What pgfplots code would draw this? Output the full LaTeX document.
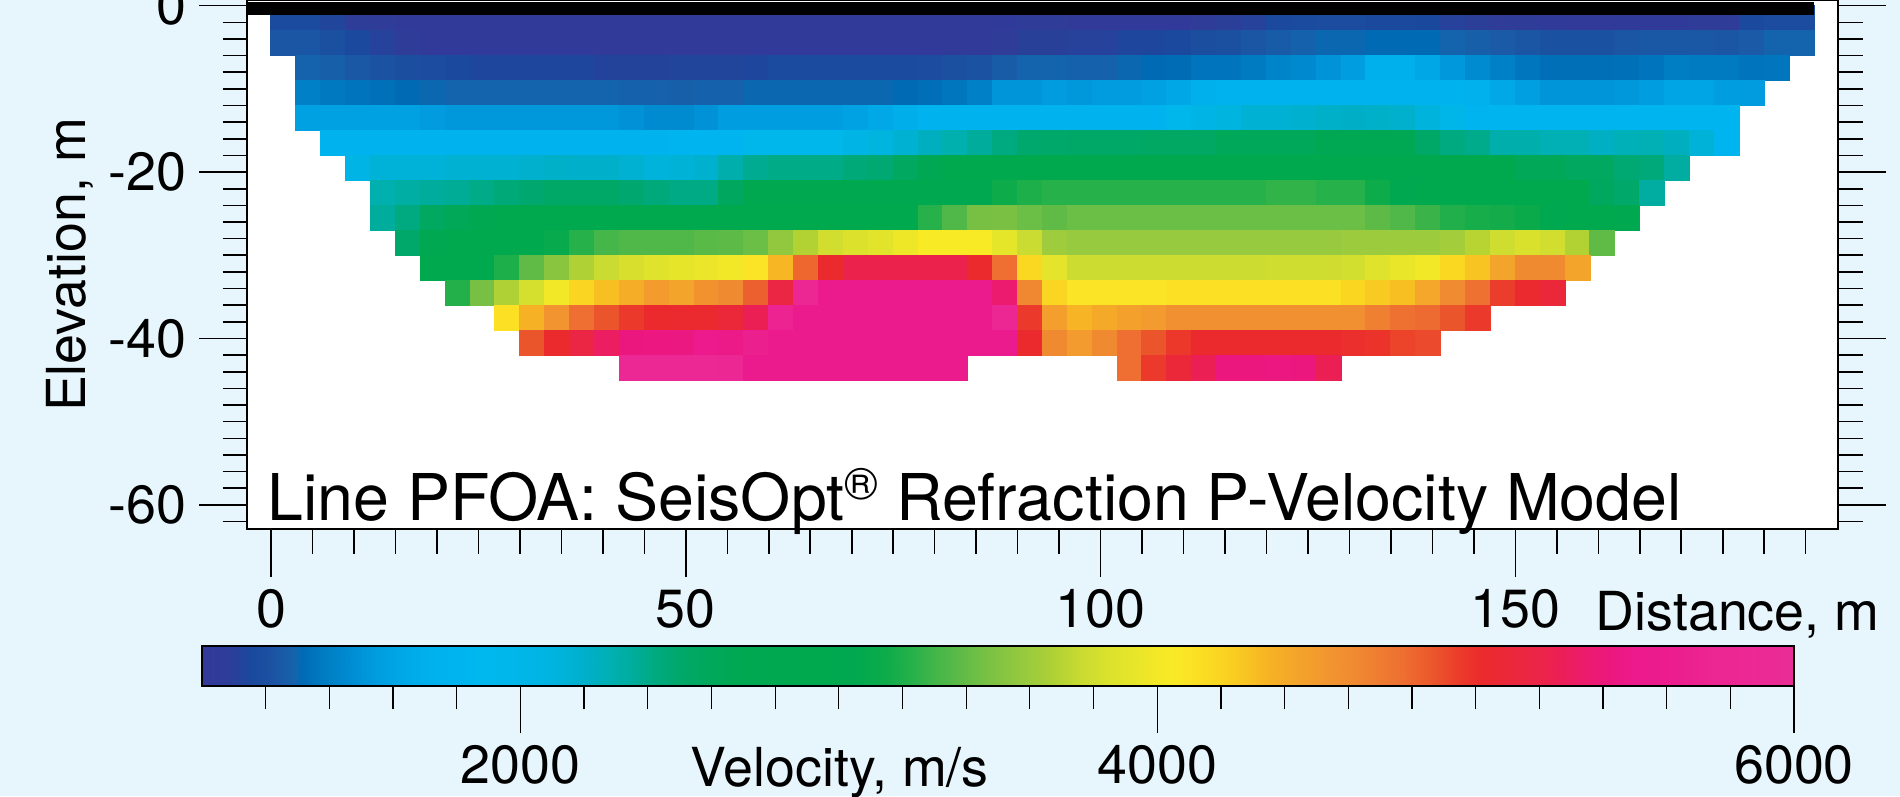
\documentclass[border=0pt]{standalone}
\usepackage{pgfplots}
\pgfplotsset{compat=1.18}
\usepackage{pgfplotstable}
\usepackage{fontspec}
\setmainfont{TeX Gyre Heros}

\definecolor{paneback}{RGB}{231,245,252}

% velocity colour scale, positions = (v - 1000)/10
\pgfplotsset{colormap={seis}{[1pt]
  rgb255(0pt)=(51,57,154) rgb255(8pt)=(46,61,152) rgb255(11pt)=(38,66,154)
  rgb255(15pt)=(26,72,157) rgb255(20pt)=(27,79,160) rgb255(25pt)=(26,90,166)
  rgb255(29pt)=(20,100,173) rgb255(31pt)=(0,106,180) rgb255(35pt)=(0,116,188)
  rgb255(40pt)=(0,128,198) rgb255(45pt)=(0,137,206) rgb255(50pt)=(0,147,216)
  rgb255(56pt)=(0,158,224) rgb255(62pt)=(0,167,230) rgb255(70pt)=(0,176,236)
  rgb255(78pt)=(0,180,239) rgb255(90pt)=(0,184,238) rgb255(100pt)=(0,182,233)
  rgb255(110pt)=(0,180,224) rgb255(117pt)=(0,177,209) rgb255(122pt)=(0,175,198)
  rgb255(128pt)=(0,176,178) rgb255(135pt)=(0,173,157) rgb255(142pt)=(0,170,128)
  rgb255(150pt)=(0,168,106) rgb255(160pt)=(0,168,90) rgb255(170pt)=(0,168,82)
  rgb255(190pt)=(0,169,77) rgb255(205pt)=(0,169,79) rgb255(215pt)=(14,171,74)
  rgb255(223pt)=(38,177,74) rgb255(230pt)=(66,181,73) rgb255(234pt)=(79,184,72)
  rgb255(239pt)=(96,187,70) rgb255(242pt)=(107,190,70) rgb255(247pt)=(122,193,67)
  rgb255(254pt)=(141,198,63) rgb255(258pt)=(151,202,62) rgb255(263pt)=(163,205,59)
  rgb255(268pt)=(178,210,52) rgb255(276pt)=(202,219,50) rgb255(280pt)=(209,222,47)
  rgb255(285pt)=(220,226,44) rgb255(292pt)=(230,229,42) rgb255(299pt)=(242,232,39)
  rgb255(305pt)=(249,234,37) rgb255(310pt)=(251,227,37) rgb255(320pt)=(250,213,33)
  rgb255(328pt)=(248,196,34) rgb255(334pt)=(247,180,36) rgb255(344pt)=(243,164,43)
  rgb255(350pt)=(243,155,46) rgb255(362pt)=(240,138,49) rgb255(377pt)=(238,111,49)
  rgb255(387pt)=(235,85,44) rgb255(395pt)=(235,58,43) rgb255(402pt)=(235,42,45)
  rgb255(410pt)=(235,40,58) rgb255(420pt)=(235,37,72) rgb255(426pt)=(236,31,85)
  rgb255(435pt)=(236,27,111) rgb255(442pt)=(236,23,126) rgb255(450pt)=(236,26,140)
  rgb255(460pt)=(236,28,142) rgb255(475pt)=(236,38,146) rgb255(485pt)=(236,40,148)
  rgb255(500pt)=(234,45,150)
}}

% model cells: centre distance (m), centre elevation (m), velocity (m/s)
\pgfplotstableread[row sep=\\]{
x y v\\
1.5 -1.5 1170\\ 4.5 -1.5 1170\\ 7.5 -1.5 1130\\ 10.5 -1.5 1080\\ 13.5 -1.5 1070\\ 16.5 -1.5 1030\\ 19.5 -1.5 1030\\ 22.5 -1.5 1030\\ 25.5 -1.5 1030\\ 28.5 -1.5 1030\\ 31.5 -1.5 1030\\ 34.5 -1.5 1030\\ 37.5 -1.5 1030\\ 40.5 -1.5 1030\\ 43.5 -1.5 1030\\ 46.5 -1.5 1030\\
49.5 -1.5 1030\\ 52.5 -1.5 1030\\ 55.5 -1.5 1030\\ 58.5 -1.5 1030\\ 61.5 -1.5 1030\\ 64.5 -1.5 1030\\ 67.5 -1.5 1030\\ 70.5 -1.5 1030\\ 73.5 -1.5 1030\\ 76.5 -1.5 1030\\ 79.5 -1.5 1030\\ 82.5 -1.5 1030\\ 85.5 -1.5 1030\\ 88.5 -1.5 1040\\ 91.5 -1.5 1060\\ 94.5 -1.5 1060\\
97.5 -1.5 1030\\ 100.5 -1.5 1030\\ 103.5 -1.5 1030\\ 106.5 -1.5 1030\\ 109.5 -1.5 1030\\ 112.5 -1.5 1070\\ 115.5 -1.5 1090\\ 118.5 -1.5 1110\\ 121.5 -1.5 1160\\ 124.5 -1.5 1170\\ 127.5 -1.5 1180\\ 130.5 -1.5 1180\\ 133.5 -1.5 1160\\ 136.5 -1.5 1160\\ 139.5 -1.5 1150\\ 142.5 -1.5 1110\\
145.5 -1.5 1090\\ 148.5 -1.5 1070\\ 151.5 -1.5 1060\\ 154.5 -1.5 1040\\ 157.5 -1.5 1030\\ 160.5 -1.5 1030\\ 163.5 -1.5 1040\\ 166.5 -1.5 1050\\ 169.5 -1.5 1050\\ 172.5 -1.5 1060\\ 175.5 -1.5 1070\\ 178.5 -1.5 1160\\ 181.5 -1.5 1180\\ 184.5 -1.5 1180\\
1.5 -4.5 1230\\ 4.5 -4.5 1230\\ 7.5 -4.5 1200\\ 10.5 -4.5 1160\\ 13.5 -4.5 1110\\ 16.5 -4.5 1070\\ 19.5 -4.5 1030\\ 22.5 -4.5 1030\\ 25.5 -4.5 1030\\ 28.5 -4.5 1030\\ 31.5 -4.5 1030\\ 34.5 -4.5 1030\\ 37.5 -4.5 1030\\ 40.5 -4.5 1030\\ 43.5 -4.5 1030\\ 46.5 -4.5 1030\\
49.5 -4.5 1030\\ 52.5 -4.5 1030\\ 55.5 -4.5 1030\\ 58.5 -4.5 1030\\ 61.5 -4.5 1030\\ 64.5 -4.5 1030\\ 67.5 -4.5 1030\\ 70.5 -4.5 1030\\ 73.5 -4.5 1030\\ 76.5 -4.5 1030\\ 79.5 -4.5 1030\\ 82.5 -4.5 1030\\ 85.5 -4.5 1030\\ 88.5 -4.5 1070\\ 91.5 -4.5 1100\\ 94.5 -4.5 1100\\
97.5 -4.5 1110\\ 100.5 -4.5 1110\\ 103.5 -4.5 1140\\ 106.5 -4.5 1140\\ 109.5 -4.5 1160\\ 112.5 -4.5 1190\\ 115.5 -4.5 1200\\ 118.5 -4.5 1230\\ 121.5 -4.5 1260\\ 124.5 -4.5 1280\\ 127.5 -4.5 1300\\ 130.5 -4.5 1300\\ 133.5 -4.5 1310\\ 136.5 -4.5 1310\\ 139.5 -4.5 1310\\ 142.5 -4.5 1290\\
145.5 -4.5 1270\\ 148.5 -4.5 1250\\ 151.5 -4.5 1230\\ 154.5 -4.5 1210\\ 157.5 -4.5 1210\\ 160.5 -4.5 1210\\ 163.5 -4.5 1230\\ 166.5 -4.5 1240\\ 169.5 -4.5 1240\\ 172.5 -4.5 1240\\ 175.5 -4.5 1230\\ 178.5 -4.5 1250\\ 181.5 -4.5 1290\\ 184.5 -4.5 1290\\
4.5 -7.5 1285\\ 7.5 -7.5 1270\\ 10.5 -7.5 1240\\ 13.5 -7.5 1220\\ 16.5 -7.5 1190\\ 19.5 -7.5 1180\\ 22.5 -7.5 1160\\ 25.5 -7.5 1140\\ 28.5 -7.5 1140\\ 31.5 -7.5 1140\\ 34.5 -7.5 1140\\ 37.5 -7.5 1140\\ 40.5 -7.5 1120\\ 43.5 -7.5 1120\\ 46.5 -7.5 1120\\
49.5 -7.5 1130\\ 52.5 -7.5 1130\\ 55.5 -7.5 1130\\ 58.5 -7.5 1140\\ 61.5 -7.5 1170\\ 64.5 -7.5 1170\\ 67.5 -7.5 1170\\ 70.5 -7.5 1170\\ 73.5 -7.5 1170\\ 76.5 -7.5 1170\\ 79.5 -7.5 1180\\ 82.5 -7.5 1200\\ 85.5 -7.5 1220\\ 88.5 -7.5 1260\\ 91.5 -7.5 1290\\ 94.5 -7.5 1290\\
97.5 -7.5 1280\\ 100.5 -7.5 1280\\ 103.5 -7.5 1300\\ 106.5 -7.5 1310\\ 109.5 -7.5 1320\\ 112.5 -7.5 1350\\ 115.5 -7.5 1350\\ 118.5 -7.5 1380\\ 121.5 -7.5 1420\\ 124.5 -7.5 1450\\ 127.5 -7.5 1500\\ 130.5 -7.5 1560\\ 133.5 -7.5 1700\\ 136.5 -7.5 1700\\ 139.5 -7.5 1620\\ 142.5 -7.5 1530\\
145.5 -7.5 1460\\ 148.5 -7.5 1400\\ 151.5 -7.5 1360\\ 154.5 -7.5 1330\\ 157.5 -7.5 1330\\ 160.5 -7.5 1330\\ 163.5 -7.5 1335\\ 166.5 -7.5 1355\\ 169.5 -7.5 1390\\ 172.5 -7.5 1375\\ 175.5 -7.5 1375\\ 178.5 -7.5 1350\\ 181.5 -7.5 1360\\
4.5 -10.5 1400\\ 7.5 -10.5 1370\\ 10.5 -10.5 1350\\ 13.5 -10.5 1335\\ 16.5 -10.5 1310\\ 19.5 -10.5 1300\\ 22.5 -10.5 1290\\ 25.5 -10.5 1290\\ 28.5 -10.5 1290\\ 31.5 -10.5 1290\\ 34.5 -10.5 1290\\ 37.5 -10.5 1290\\ 40.5 -10.5 1290\\ 43.5 -10.5 1280\\ 46.5 -10.5 1280\\
49.5 -10.5 1270\\ 52.5 -10.5 1280\\ 55.5 -10.5 1280\\ 58.5 -10.5 1300\\ 61.5 -10.5 1300\\ 64.5 -10.5 1300\\ 67.5 -10.5 1300\\ 70.5 -10.5 1300\\ 73.5 -10.5 1300\\ 76.5 -10.5 1310\\ 79.5 -10.5 1330\\ 82.5 -10.5 1360\\ 85.5 -10.5 1400\\ 88.5 -10.5 1510\\ 91.5 -10.5 1510\\ 94.5 -10.5 1550\\
97.5 -10.5 1520\\ 100.5 -10.5 1550\\ 103.5 -10.5 1550\\ 106.5 -10.5 1580\\ 109.5 -10.5 1620\\ 112.5 -10.5 1700\\ 115.5 -10.5 1750\\ 118.5 -10.5 1750\\ 121.5 -10.5 1750\\ 124.5 -10.5 1750\\ 127.5 -10.5 1750\\ 130.5 -10.5 1750\\ 133.5 -10.5 1750\\ 136.5 -10.5 1750\\ 139.5 -10.5 1750\\ 142.5 -10.5 1750\\
145.5 -10.5 1720\\ 148.5 -10.5 1630\\ 151.5 -10.5 1570\\ 154.5 -10.5 1510\\ 157.5 -10.5 1510\\ 160.5 -10.5 1510\\ 163.5 -10.5 1520\\ 166.5 -10.5 1560\\ 169.5 -10.5 1610\\ 172.5 -10.5 1610\\ 175.5 -10.5 1560\\ 178.5 -10.5 1550\\
4.5 -13.5 1580\\ 7.5 -13.5 1580\\ 10.5 -13.5 1580\\ 13.5 -13.5 1580\\ 16.5 -13.5 1580\\ 19.5 -13.5 1550\\ 22.5 -13.5 1520\\ 25.5 -13.5 1520\\ 28.5 -13.5 1520\\ 31.5 -13.5 1520\\ 34.5 -13.5 1520\\ 37.5 -13.5 1520\\ 40.5 -13.5 1520\\ 43.5 -13.5 1490\\ 46.5 -13.5 1460\\
49.5 -13.5 1460\\ 52.5 -13.5 1490\\ 55.5 -13.5 1560\\ 58.5 -13.5 1560\\ 61.5 -13.5 1560\\ 64.5 -13.5 1560\\ 67.5 -13.5 1560\\ 70.5 -13.5 1590\\ 73.5 -13.5 1630\\ 76.5 -13.5 1680\\ 79.5 -13.5 1770\\ 82.5 -13.5 1770\\ 85.5 -13.5 1770\\ 88.5 -13.5 1770\\ 91.5 -13.5 1770\\ 94.5 -13.5 1770\\
97.5 -13.5 1770\\ 100.5 -13.5 1770\\ 103.5 -13.5 1770\\ 106.5 -13.5 1770\\ 109.5 -13.5 1950\\ 112.5 -13.5 2030\\ 115.5 -13.5 2100\\ 118.5 -13.5 2160\\ 121.5 -13.5 2160\\ 124.5 -13.5 2180\\ 127.5 -13.5 2210\\ 130.5 -13.5 2220\\ 133.5 -13.5 2210\\ 136.5 -13.5 2190\\ 139.5 -13.5 2120\\ 142.5 -13.5 2000\\
145.5 -13.5 1800\\ 148.5 -13.5 1780\\ 151.5 -13.5 1780\\ 154.5 -13.5 1780\\ 157.5 -13.5 1780\\ 160.5 -13.5 1780\\ 163.5 -13.5 1780\\ 166.5 -13.5 1800\\ 169.5 -13.5 1800\\ 172.5 -13.5 1800\\ 175.5 -13.5 1780\\
7.5 -16.5 1760\\ 10.5 -16.5 1760\\ 13.5 -16.5 1760\\ 16.5 -16.5 1760\\ 19.5 -16.5 1760\\ 22.5 -16.5 1760\\ 25.5 -16.5 1760\\ 28.5 -16.5 1760\\ 31.5 -16.5 1760\\ 34.5 -16.5 1760\\ 37.5 -16.5 1760\\ 40.5 -16.5 1760\\ 43.5 -16.5 1760\\ 46.5 -16.5 1760\\
49.5 -16.5 1780\\ 52.5 -16.5 1780\\ 55.5 -16.5 1780\\ 58.5 -16.5 1950\\ 61.5 -16.5 1950\\ 64.5 -16.5 1950\\ 67.5 -16.5 1950\\ 70.5 -16.5 2030\\ 73.5 -16.5 2100\\ 76.5 -16.5 2170\\ 79.5 -16.5 2240\\ 82.5 -16.5 2290\\ 85.5 -16.5 2350\\ 88.5 -16.5 2420\\ 91.5 -16.5 2490\\ 94.5 -16.5 2500\\
97.5 -16.5 2510\\ 100.5 -16.5 2510\\ 103.5 -16.5 2510\\ 106.5 -16.5 2540\\ 109.5 -16.5 2540\\ 112.5 -16.5 2540\\ 115.5 -16.5 2600\\ 118.5 -16.5 2600\\ 121.5 -16.5 2600\\ 124.5 -16.5 2600\\ 127.5 -16.5 2680\\ 130.5 -16.5 2680\\ 133.5 -16.5 2680\\ 136.5 -16.5 2680\\ 139.5 -16.5 2510\\ 142.5 -16.5 2420\\
145.5 -16.5 2390\\ 148.5 -16.5 2300\\ 151.5 -16.5 2300\\ 154.5 -16.5 2270\\ 157.5 -16.5 2270\\ 160.5 -16.5 2230\\ 163.5 -16.5 2260\\ 166.5 -16.5 2270\\ 169.5 -16.5 2240\\ 172.5 -16.5 2140\\ 175.5 -16.5 1780\\
10.5 -19.5 2040\\ 13.5 -19.5 2140\\ 16.5 -19.5 2140\\ 19.5 -19.5 2140\\ 22.5 -19.5 2170\\ 25.5 -19.5 2170\\ 28.5 -19.5 2170\\ 31.5 -19.5 2190\\ 34.5 -19.5 2210\\ 37.5 -19.5 2200\\ 40.5 -19.5 2200\\ 43.5 -19.5 2170\\ 46.5 -19.5 2130\\
49.5 -19.5 2150\\ 52.5 -19.5 2180\\ 55.5 -19.5 2300\\ 58.5 -19.5 2380\\ 61.5 -19.5 2400\\ 64.5 -19.5 2400\\ 67.5 -19.5 2400\\ 70.5 -19.5 2450\\ 73.5 -19.5 2470\\ 76.5 -19.5 2560\\ 79.5 -19.5 2680\\ 82.5 -19.5 2900\\ 85.5 -19.5 2900\\ 88.5 -19.5 2900\\ 91.5 -19.5 2900\\ 94.5 -19.5 2900\\
97.5 -19.5 2900\\ 100.5 -19.5 2900\\ 103.5 -19.5 2900\\ 106.5 -19.5 2900\\ 109.5 -19.5 2900\\ 112.5 -19.5 2900\\ 115.5 -19.5 2900\\ 118.5 -19.5 2900\\ 121.5 -19.5 2900\\ 124.5 -19.5 2900\\ 127.5 -19.5 2900\\ 130.5 -19.5 2900\\ 133.5 -19.5 2900\\ 136.5 -19.5 2900\\ 139.5 -19.5 2900\\ 142.5 -19.5 2900\\
145.5 -19.5 2950\\ 148.5 -19.5 2850\\ 151.5 -19.5 2620\\ 154.5 -19.5 2620\\ 157.5 -19.5 2560\\ 160.5 -19.5 2560\\ 163.5 -19.5 2470\\ 166.5 -19.5 2440\\ 169.5 -19.5 2340\\
13.5 -22.5 2290\\ 16.5 -22.5 2330\\ 19.5 -22.5 2350\\ 22.5 -22.5 2370\\ 25.5 -22.5 2400\\ 28.5 -22.5 2450\\ 31.5 -22.5 2480\\ 34.5 -22.5 2520\\ 37.5 -22.5 2520\\ 40.5 -22.5 2520\\ 43.5 -22.5 2480\\ 46.5 -22.5 2440\\
49.5 -22.5 2410\\ 52.5 -22.5 2410\\ 55.5 -22.5 2570\\ 58.5 -22.5 2800\\ 61.5 -22.5 2800\\ 64.5 -22.5 2800\\ 67.5 -22.5 2800\\ 70.5 -22.5 2800\\ 73.5 -22.5 2800\\ 76.5 -22.5 2800\\ 79.5 -22.5 2800\\ 82.5 -22.5 2800\\ 85.5 -22.5 2800\\ 88.5 -22.5 3150\\ 91.5 -22.5 3200\\ 94.5 -22.5 3230\\
97.5 -22.5 3230\\ 100.5 -22.5 3230\\ 103.5 -22.5 3230\\ 106.5 -22.5 3230\\ 109.5 -22.5 3230\\ 112.5 -22.5 3230\\ 115.5 -22.5 3230\\ 118.5 -22.5 3230\\ 121.5 -22.5 3260\\ 124.5 -22.5 3260\\ 127.5 -22.5 3230\\ 130.5 -22.5 3230\\ 133.5 -22.5 3150\\ 136.5 -22.5 3050\\ 139.5 -22.5 3000\\ 142.5 -22.5 3000\\
145.5 -22.5 2950\\ 148.5 -22.5 2950\\ 151.5 -22.5 2950\\ 154.5 -22.5 2950\\ 157.5 -22.5 2900\\ 160.5 -22.5 2570\\ 163.5 -22.5 2500\\ 166.5 -22.5 2340\\
13.5 -25.5 2350\\ 16.5 -25.5 2420\\ 19.5 -25.5 2560\\ 22.5 -25.5 2620\\ 25.5 -25.5 2750\\ 28.5 -25.5 2900\\ 31.5 -25.5 2900\\ 34.5 -25.5 2900\\ 37.5 -25.5 2900\\ 40.5 -25.5 2900\\ 43.5 -25.5 2900\\ 46.5 -25.5 2900\\
49.5 -25.5 2900\\ 52.5 -25.5 2900\\ 55.5 -25.5 2900\\ 58.5 -25.5 2900\\ 61.5 -25.5 2900\\ 64.5 -25.5 2900\\ 67.5 -25.5 2900\\ 70.5 -25.5 2900\\ 73.5 -25.5 2900\\ 76.5 -25.5 2900\\ 79.5 -25.5 3230\\ 82.5 -25.5 3340\\ 85.5 -25.5 3460\\ 88.5 -25.5 3470\\ 91.5 -25.5 3420\\ 94.5 -25.5 3390\\
97.5 -25.5 3420\\ 100.5 -25.5 3420\\ 103.5 -25.5 3420\\ 106.5 -25.5 3420\\ 109.5 -25.5 3420\\ 112.5 -25.5 3420\\ 115.5 -25.5 3420\\ 118.5 -25.5 3420\\ 121.5 -25.5 3420\\ 124.5 -25.5 3420\\ 127.5 -25.5 3420\\ 130.5 -25.5 3420\\ 133.5 -25.5 3380\\ 136.5 -25.5 3340\\ 139.5 -25.5 3280\\ 142.5 -25.5 3210\\
145.5 -25.5 3180\\ 148.5 -25.5 3170\\ 151.5 -25.5 3120\\ 154.5 -25.5 3050\\ 157.5 -25.5 3000\\ 160.5 -25.5 3000\\ 163.5 -25.5 2800\\
16.5 -28.5 2500\\ 19.5 -28.5 2750\\ 22.5 -28.5 2900\\ 25.5 -28.5 2900\\ 28.5 -28.5 2900\\ 31.5 -28.5 2900\\ 34.5 -28.5 3100\\ 37.5 -28.5 3230\\ 40.5 -28.5 3310\\ 43.5 -28.5 3340\\ 46.5 -28.5 3340\\
49.5 -28.5 3340\\ 52.5 -28.5 3370\\ 55.5 -28.5 3380\\ 58.5 -28.5 3420\\ 61.5 -28.5 3560\\ 64.5 -28.5 3680\\ 67.5 -28.5 3800\\ 70.5 -28.5 3850\\ 73.5 -28.5 3890\\ 76.5 -28.5 3960\\ 79.5 -28.5 4040\\ 82.5 -28.5 4040\\ 85.5 -28.5 4040\\ 88.5 -28.5 3910\\ 91.5 -28.5 3760\\ 94.5 -28.5 3610\\
97.5 -28.5 3580\\ 100.5 -28.5 3580\\ 103.5 -28.5 3580\\ 106.5 -28.5 3580\\ 109.5 -28.5 3580\\ 112.5 -28.5 3580\\ 115.5 -28.5 3580\\ 118.5 -28.5 3580\\ 121.5 -28.5 3580\\ 124.5 -28.5 3580\\ 127.5 -28.5 3580\\ 130.5 -28.5 3600\\ 133.5 -28.5 3600\\ 136.5 -28.5 3600\\ 139.5 -28.5 3600\\ 142.5 -28.5 3630\\
145.5 -28.5 3700\\ 148.5 -28.5 3790\\ 151.5 -28.5 3840\\ 154.5 -28.5 3800\\ 157.5 -28.5 3680\\ 160.5 -28.5 3390\\
19.5 -31.5 2950\\ 22.5 -31.5 2950\\ 25.5 -31.5 2950\\ 28.5 -31.5 3200\\ 31.5 -31.5 3390\\ 34.5 -31.5 3530\\ 37.5 -31.5 3670\\ 40.5 -31.5 3760\\ 43.5 -31.5 3830\\ 46.5 -31.5 3880\\
49.5 -31.5 3920\\ 52.5 -31.5 3950\\ 55.5 -31.5 3990\\ 58.5 -31.5 4100\\ 61.5 -31.5 4330\\ 64.5 -31.5 4800\\ 67.5 -31.5 5020\\ 70.5 -31.5 5220\\ 73.5 -31.5 5220\\ 76.5 -31.5 5220\\ 79.5 -31.5 5220\\ 82.5 -31.5 5220\\ 85.5 -31.5 5020\\ 88.5 -31.5 4770\\ 91.5 -31.5 4180\\ 94.5 -31.5 3900\\
97.5 -31.5 3770\\ 100.5 -31.5 3770\\ 103.5 -31.5 3770\\ 106.5 -31.5 3770\\ 109.5 -31.5 3770\\ 112.5 -31.5 3770\\ 115.5 -31.5 3770\\ 118.5 -31.5 3770\\ 121.5 -31.5 3790\\ 124.5 -31.5 3790\\ 127.5 -31.5 3790\\ 130.5 -31.5 3810\\ 133.5 -31.5 3870\\ 136.5 -31.5 3940\\ 139.5 -31.5 4000\\ 142.5 -31.5 4180\\
145.5 -31.5 4280\\ 148.5 -31.5 4440\\ 151.5 -31.5 4620\\ 154.5 -31.5 4620\\ 157.5 -31.5 4440\\
22.5 -34.5 3220\\ 25.5 -34.5 3460\\ 28.5 -34.5 3670\\ 31.5 -34.5 3820\\ 34.5 -34.5 3990\\ 37.5 -34.5 4200\\ 40.5 -34.5 4300\\ 43.5 -34.5 4390\\ 46.5 -34.5 4490\\
49.5 -34.5 4440\\ 52.5 -34.5 4560\\ 55.5 -34.5 4620\\ 58.5 -34.5 4830\\ 61.5 -34.5 5180\\ 64.5 -34.5 5800\\ 67.5 -34.5 5550\\ 70.5 -34.5 5550\\ 73.5 -34.5 5550\\ 76.5 -34.5 5550\\ 79.5 -34.5 5550\\ 82.5 -34.5 5550\\ 85.5 -34.5 5550\\ 88.5 -34.5 5350\\ 91.5 -34.5 4630\\ 94.5 -34.5 4200\\
97.5 -34.5 4100\\ 100.5 -34.5 4100\\ 103.5 -34.5 4100\\ 106.5 -34.5 4100\\ 109.5 -34.5 4120\\ 112.5 -34.5 4120\\ 115.5 -34.5 4120\\ 118.5 -34.5 4120\\ 121.5 -34.5 4120\\ 124.5 -34.5 4120\\ 127.5 -34.5 4120\\ 130.5 -34.5 4190\\ 133.5 -34.5 4250\\ 136.5 -34.5 4300\\ 139.5 -34.5 4420\\ 142.5 -34.5 4610\\
145.5 -34.5 4760\\ 148.5 -34.5 4940\\ 151.5 -34.5 5030\\ 154.5 -34.5 5100\\
28.5 -37.5 4120\\ 31.5 -37.5 4360\\ 34.5 -37.5 4550\\ 37.5 -37.5 4770\\ 40.5 -37.5 4870\\ 43.5 -37.5 4950\\ 46.5 -37.5 5020\\
49.5 -37.5 5030\\ 52.5 -37.5 5030\\ 55.5 -37.5 5100\\ 58.5 -37.5 5260\\ 61.5 -37.5 5700\\ 64.5 -37.5 5550\\ 67.5 -37.5 5550\\ 70.5 -37.5 5550\\ 73.5 -37.5 5550\\ 76.5 -37.5 5550\\ 79.5 -37.5 5550\\ 82.5 -37.5 5550\\ 85.5 -37.5 5550\\ 88.5 -37.5 5750\\ 91.5 -37.5 4950\\ 94.5 -37.5 4480\\
97.5 -37.5 4340\\ 100.5 -37.5 4410\\ 103.5 -37.5 4460\\ 106.5 -37.5 4500\\ 109.5 -37.5 4580\\ 112.5 -37.5 4580\\ 115.5 -37.5 4580\\ 118.5 -37.5 4580\\ 121.5 -37.5 4580\\ 124.5 -37.5 4580\\ 127.5 -37.5 4580\\ 130.5 -37.5 4580\\ 133.5 -37.5 4680\\ 136.5 -37.5 4760\\ 139.5 -37.5 4790\\ 142.5 -37.5 4870\\
145.5 -37.5 4950\\
31.5 -40.5 4870\\ 34.5 -40.5 5020\\ 37.5 -40.5 5170\\ 40.5 -40.5 5300\\ 43.5 -40.5 5420\\ 46.5 -40.5 5430\\
49.5 -40.5 5440\\ 52.5 -40.5 5500\\ 55.5 -40.5 5480\\ 58.5 -40.5 5650\\ 61.5 -40.5 5550\\ 64.5 -40.5 5550\\ 67.5 -40.5 5550\\ 70.5 -40.5 5550\\ 73.5 -40.5 5550\\ 76.5 -40.5 5550\\ 79.5 -40.5 5550\\ 82.5 -40.5 5550\\ 85.5 -40.5 5550\\ 88.5 -40.5 5550\\ 91.5 -40.5 5020\\ 94.5 -40.5 4620\\
97.5 -40.5 4500\\ 100.5 -40.5 4620\\ 103.5 -40.5 4770\\ 106.5 -40.5 4870\\ 109.5 -40.5 4960\\ 112.5 -40.5 5020\\ 115.5 -40.5 5020\\ 118.5 -40.5 5020\\ 121.5 -40.5 5020\\ 124.5 -40.5 5020\\ 127.5 -40.5 5020\\ 130.5 -40.5 5000\\ 133.5 -40.5 4980\\ 136.5 -40.5 4920\\ 139.5 -40.5 4900\\
43.5 -43.5 5850\\ 46.5 -43.5 5850\\ 49.5 -43.5 5850\\ 52.5 -43.5 5850\\ 55.5 -43.5 5800\\ 58.5 -43.5 5550\\ 61.5 -43.5 5550\\ 64.5 -43.5 5550\\ 67.5 -43.5 5550\\ 70.5 -43.5 5550\\ 73.5 -43.5 5550\\ 76.5 -43.5 5550\\ 79.5 -43.5 5550\\ 82.5 -43.5 5550\\
103.5 -43.5 4770\\ 106.5 -43.5 4950\\ 109.5 -43.5 5100\\ 112.5 -43.5 5260\\ 115.5 -43.5 5420\\ 118.5 -43.5 5420\\ 121.5 -43.5 5440\\ 124.5 -43.5 5420\\ 127.5 -43.5 5260\\
}\velcells

\newcommand{\labfont}{\fontsize{15.3}{18}\selectfont}

\begin{document}
\begin{tikzpicture}
\path[use as bounding box] (0,0) rectangle (19cm,7.96cm);
\fill[paneback] (0,0) rectangle (19cm,7.96cm);

% velocity section
\begin{axis}[
  at={(2.47cm,2.67cm)}, anchor=south west,
  scale only axis, width=15.91cm, height=5.29cm,
  xmin=-2.9, xmax=188.9, ymin=-62.9, ymax=0.68,
  axis background/.style={fill=white},
  axis on top,
  clip marker paths=true,
  axis line style={line width=0.75pt},
  colormap name=seis, point meta min=1000, point meta max=6000,
  xtick={0,50,100,150}, xticklabels={0,50,100,150},
  minor xtick={0,5,...,185},
  ytick={-60,-40,-20,0}, yticklabels={-60,-40,-20,0},
  minor ytick={-62,-60,...,0},
  xtick pos=left, ytick pos=both, yticklabel pos=left,
  tick align=outside,
  major tick length=0.48cm, minor tick length=0.245cm,
  tick style={black, line width=0.45pt},
  tick label style={font=\labfont, text=black},
]
\addplot[scatter, only marks, mark=square*, mark size=3.55pt, line width=0.3pt,
  point meta=explicit,
  scatter/use mapped color={draw=mapped color, fill=mapped color}]
  table[x=x, y=y, meta=v] {\velcells};
% ground surface
\addplot[black, line width=3.7pt] coordinates {(-2.9,-0.3) (186,-0.3)};
\end{axis}

% velocity scale
\begin{axis}[
  at={(2.02cm,1.103cm)}, anchor=south west,
  scale only axis, width=15.92cm, height=0.40cm,
  xmin=1000, xmax=6000, ymin=0, ymax=1,
  axis on top,
  axis line style={line width=0.6pt},
  colormap name=seis, point meta min=1000, point meta max=6000,
  xtick={2000,4000,6000}, xticklabels={2000,4000,6000},
  minor xtick={1200,1400,...,5800},
  ytick=\empty, xtick pos=left, tick align=outside,
  major tick length=0.475cm, minor tick length=0.235cm,
  tick style={black, line width=0.35pt},
  tick label style={font=\labfont, text=black},
]
\addplot[surf, shader=interp, point meta=x] coordinates {
(1000,0) (1100,0) (1200,0) (1300,0) (1400,0) (1500,0) (1600,0) (1700,0) (1800,0) (1900,0)
(2000,0) (2100,0) (2200,0) (2300,0) (2400,0) (2500,0) (2600,0) (2700,0) (2800,0) (2900,0)
(3000,0) (3100,0) (3200,0) (3300,0) (3400,0) (3500,0) (3600,0) (3700,0) (3800,0) (3900,0)
(4000,0) (4100,0) (4200,0) (4300,0) (4400,0) (4500,0) (4600,0) (4700,0) (4800,0) (4900,0)
(5000,0) (5100,0) (5200,0) (5300,0) (5400,0) (5500,0) (5600,0) (5700,0) (5800,0) (5900,0) (6000,0)

(1000,1) (1100,1) (1200,1) (1300,1) (1400,1) (1500,1) (1600,1) (1700,1) (1800,1) (1900,1)
(2000,1) (2100,1) (2200,1) (2300,1) (2400,1) (2500,1) (2600,1) (2700,1) (2800,1) (2900,1)
(3000,1) (3100,1) (3200,1) (3300,1) (3400,1) (3500,1) (3600,1) (3700,1) (3800,1) (3900,1)
(4000,1) (4100,1) (4200,1) (4300,1) (4400,1) (4500,1) (4600,1) (4700,1) (4800,1) (4900,1)
(5000,1) (5100,1) (5200,1) (5300,1) (5400,1) (5500,1) (5600,1) (5700,1) (5800,1) (5900,1) (6000,1)
};
\end{axis}

% titles and axis names
\node[anchor=base west, inner sep=0pt, font=\fontsize{18.35}{21}\selectfont]
  at (2.67cm,2.76cm)
  {Line PFOA: SeisOpt\raisebox{5.8pt}{\fontsize{13}{13}\selectfont\textregistered} Refraction P-Velocity Model};
\node[anchor=base, rotate=90, inner sep=0pt, font=\labfont] at (0.85cm,5.31cm) {Elevation, m};
\node[anchor=base west, inner sep=0pt, font=\labfont] at (15.95cm,1.66cm) {Distance, m};
\node[anchor=base west, inner sep=0pt, font=\labfont] at (6.90cm,0.093cm) {Velocity, m/s};
\end{tikzpicture}
\end{document}
